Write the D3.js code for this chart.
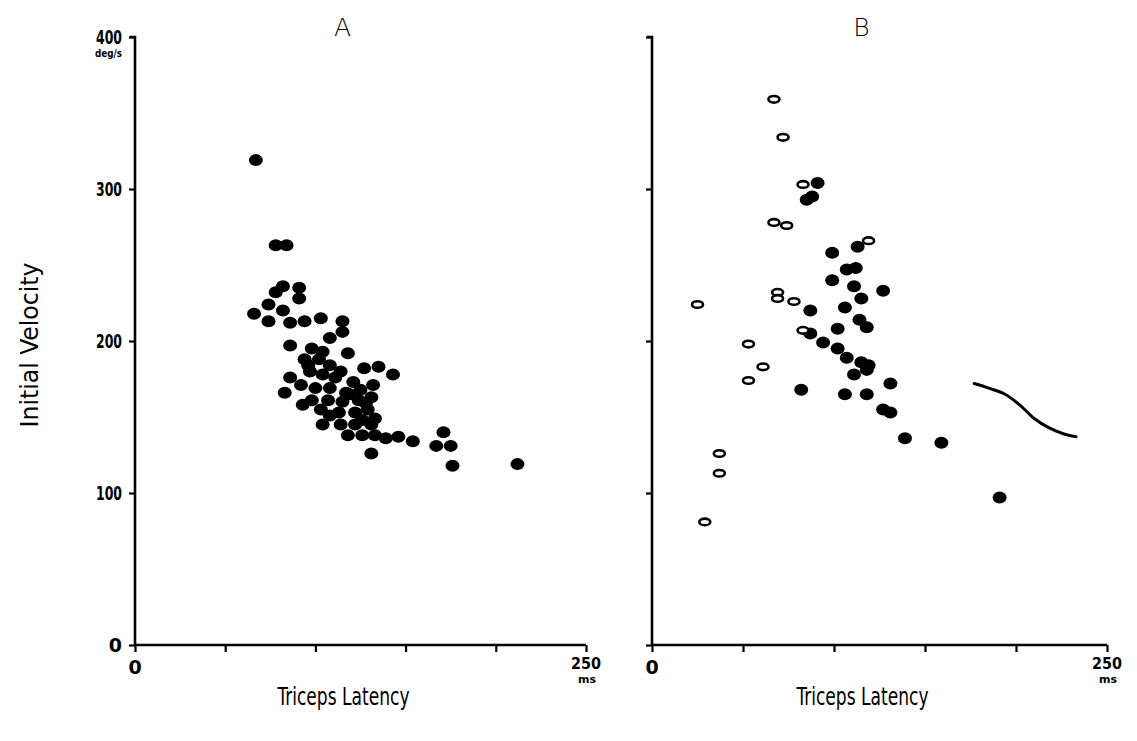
<!DOCTYPE html>
<html>
<head>
<meta charset="utf-8">
<script src="https://cdn.jsdelivr.net/npm/d3@7"></script>
<style>
  html, body { margin: 0; padding: 0; background: #fff; }
  svg { display: block; }
  text { fill: #000; }
</style>
</head>
<body>
<svg id="chart" width="1137" height="741"></svg>
<script>
// Panel A: triceps latency (ms) vs initial velocity (deg/s), filled dots
const latencyA = [67, 78, 84, 82, 91, 78, 91, 74, 82, 66, 74, 86, 94, 103, 115, 115, 108, 86, 98, 118, 104,
  127, 135, 143, 86, 83, 94, 102, 108, 97, 104, 114, 121, 92, 100, 108, 117, 125, 132, 98, 107, 115, 124, 131,
  93, 103, 113, 122, 129, 133, 114, 122, 131, 118, 126, 133, 139, 146, 154, 131, 171, 167, 175, 176, 212,
  96, 111, 119, 128, 108, 126, 104];
const velocityA = [319, 263, 263, 236, 235, 232, 228, 224, 220, 218, 213, 212, 213, 215, 213, 206, 202, 197, 195, 192, 193,
  182, 183, 178, 176, 166, 188, 188, 184, 180, 178, 180, 173, 171, 169, 169, 166, 168, 171, 161, 161, 160, 161, 163,
  158, 155, 153, 153, 155, 149, 145, 145, 145, 138, 138, 138, 136, 137, 134, 126, 140, 131, 131, 118, 119,
  184, 176, 165, 159, 151, 148, 145];

// Panel B: filled dots and open symbols
const latencyBFilled = [91, 85, 88, 99, 113, 107, 112, 99, 111, 127, 115, 87, 106, 114, 118, 102, 87, 94, 102,
  107, 115, 119, 111, 118, 131, 82, 106, 118, 127, 131, 139, 159, 191];
const velocityBFilled = [304, 293, 295, 258, 262, 247, 248, 240, 236, 233, 228, 220, 222, 214, 209, 208, 205, 199, 195,
  189, 186, 184, 178, 181, 172, 168, 165, 165, 155, 153, 136, 133, 97];
const latencyBOpen = [67, 72, 83, 119, 67, 74, 69, 69, 78, 83, 25, 53, 61, 53, 37, 37, 29];
const velocityBOpen = [359, 334, 303, 266, 278, 276, 232, 228, 226, 207, 224, 198, 183, 174, 126, 113, 81];

// Hand-drawn curve in panel B
const curveLatency = [177, 185, 194, 202, 210, 218, 226, 233];
const curveVelocity = [172, 169, 165, 158, 149, 143, 139, 137];

const yTicks = [0, 100, 200, 300, 400];
const xTickValues = [0, 50, 100, 150, 200, 250];

const svg = d3.select("#chart");
const font = "'DejaVu Sans', sans-serif";

const y = d3.scaleLinear().domain([0, 400]).range([645, 37]);
const panels = [
  { key: "A", x: d3.scaleLinear().domain([0, 250]).range([135, 586]), labels: true },
  { key: "B", x: d3.scaleLinear().domain([0, 250]).range([652, 1107]), labels: false }
];

panels.forEach(p => {
  const g = svg.append("g");
  const x = p.x;

  // y axis
  const yAxis = d3.axisLeft(y).tickValues(yTicks).tickSize(6).tickFormat("");
  const ya = g.append("g").attr("transform", `translate(${x(0)},0)`).call(yAxis);
  ya.select(".domain").attr("stroke", "#000").attr("stroke-width", 2.6).attr("d", `M-5,${y(400)}H0V${y(0)}`);
  ya.selectAll(".tick line").attr("stroke", "#000").attr("stroke-width", 2.2);

  // x axis
  const xAxis = d3.axisBottom(x).tickValues(xTickValues).tickSize(7).tickFormat("");
  const xa = g.append("g").attr("transform", `translate(0,${y(0)})`).call(xAxis);
  xa.select(".domain").attr("stroke", "#000").attr("stroke-width", 2.6).attr("d", `M${x(0)},0H${x(250)}`);
  xa.selectAll(".tick line").attr("stroke", "#000").attr("stroke-width", 2.2);

  // panel title
  g.append("text").attr("x", (x(0) + x(250)) / 2 - 18).attr("y", 36)
    .attr("text-anchor", "middle").attr("font-family", font).attr("font-size", 25)
    .attr("font-weight", 300).text(p.key);

  // x tick labels
  g.append("text").attr("x", x(0)).attr("y", y(0) + 29).attr("text-anchor", "middle")
    .attr("font-family", font).attr("font-size", 19).attr("font-weight", "bold").text("0");
  g.append("text").attr("x", x(250)).attr("y", y(0) + 24).attr("text-anchor", "middle")
    .attr("font-family", font).attr("font-size", 16).attr("font-weight", "bold")
    .attr("textLength", 30).attr("lengthAdjust", "spacingAndGlyphs").text("250");
  g.append("text").attr("x", x(250) + 1).attr("y", y(0) + 38).attr("text-anchor", "middle")
    .attr("font-family", font).attr("font-size", 11).attr("font-weight", "bold").text("ms");

  // x axis title
  g.append("text").attr("x", (x(0) + x(250)) / 2 - 17).attr("y", 705).attr("text-anchor", "middle")
    .attr("font-family", "'DejaVu Sans Condensed', 'DejaVu Sans', sans-serif").attr("font-size", 25)
    .attr("font-weight", 300).attr("textLength", 132).attr("lengthAdjust", "spacingAndGlyphs")
    .text("Triceps Latency");

  if (p.labels) {
    yTicks.forEach(t => {
      const lbl = g.append("text").attr("x", x(0) - 13).attr("y", y(t) + 7).attr("text-anchor", "end")
        .attr("font-family", font).attr("font-size", 19).attr("font-weight", "bold").text(t);
      if (String(t).length === 3) lbl.attr("textLength", 26).attr("lengthAdjust", "spacingAndGlyphs");
    });
    g.append("text").attr("x", x(0) - 13).attr("y", y(400) + 20).attr("text-anchor", "end")
      .attr("font-family", font).attr("font-size", 11).attr("font-weight", "bold")
      .attr("textLength", 27).attr("lengthAdjust", "spacingAndGlyphs").text("deg/s");
  }
});

// y axis title
svg.append("text").attr("transform", `translate(38,345) rotate(-90)`).attr("text-anchor", "middle")
  .attr("font-family", "'DejaVu Sans Condensed', 'DejaVu Sans', sans-serif").attr("font-size", 25)
  .attr("font-weight", 300).attr("textLength", 165).attr("lengthAdjust", "spacingAndGlyphs")
  .text("Initial Velocity");

// Panel A dots
const xA = panels[0].x, xB = panels[1].x;
svg.append("g").selectAll("ellipse").data(latencyA.map((v, i) => [v, velocityA[i]])).join("ellipse")
  .attr("cx", d => xA(d[0])).attr("cy", d => y(d[1])).attr("rx", 7).attr("ry", 6).attr("fill", "#000");

// Panel B curve
svg.append("path")
  .datum(curveLatency.map((v, i) => [v, curveVelocity[i]]))
  .attr("d", d3.line().x(d => xB(d[0])).y(d => y(d[1])).curve(d3.curveCatmullRom))
  .attr("fill", "none").attr("stroke", "#000").attr("stroke-width", 3).attr("stroke-linecap", "round");

// Panel B filled dots
svg.append("g").selectAll("ellipse").data(latencyBFilled.map((v, i) => [v, velocityBFilled[i]])).join("ellipse")
  .attr("cx", d => xB(d[0])).attr("cy", d => y(d[1])).attr("rx", 7).attr("ry", 6).attr("fill", "#000");

// Panel B open symbols
svg.append("g").selectAll("ellipse").data(latencyBOpen.map((v, i) => [v, velocityBOpen[i]])).join("ellipse")
  .attr("cx", d => xB(d[0])).attr("cy", d => y(d[1])).attr("rx", 5.5).attr("ry", 3.3)
  .attr("fill", "#fff").attr("stroke", "#000").attr("stroke-width", 2.6);
</script>
</body>
</html>
